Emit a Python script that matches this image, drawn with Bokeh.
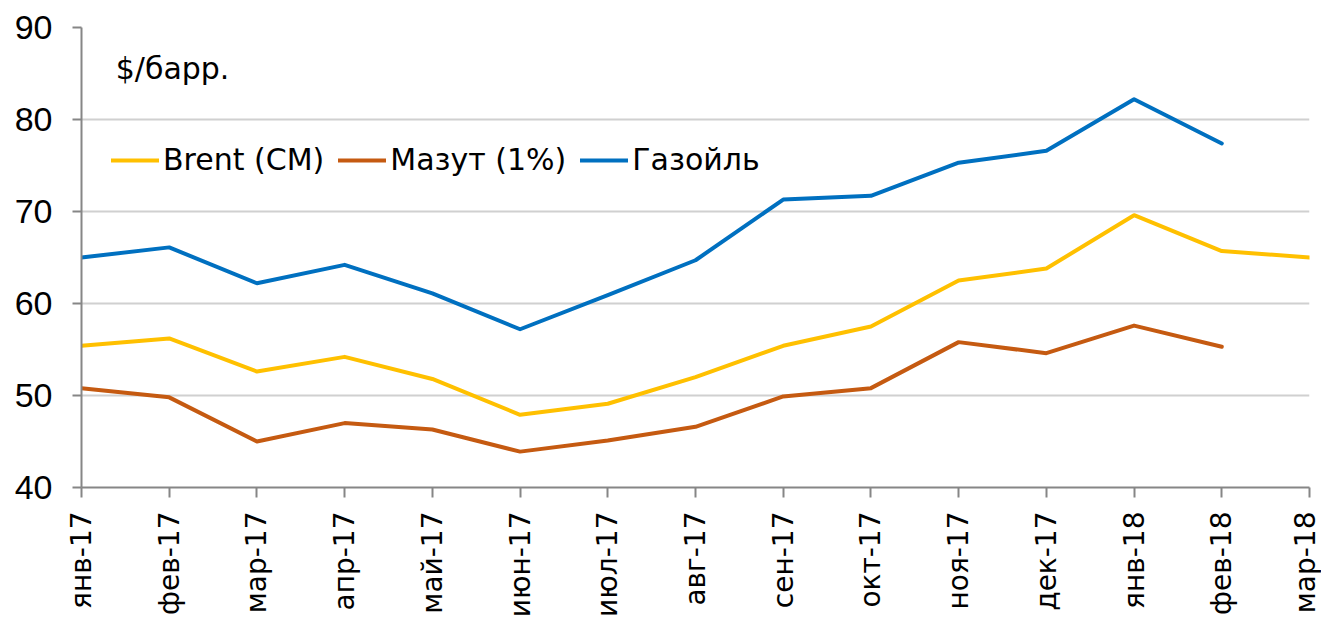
from bokeh.plotting import figure
from bokeh.models import Range1d, FixedTicker, Legend, LegendItem, Label, ColumnDataSource
from bokeh.embed import file_html
from bokeh.resources import INLINE

months = ["янв-17", "фев-17", "мар-17", "апр-17", "май-17", "июн-17", "июл-17",
          "авг-17", "сен-17", "окт-17", "ноя-17", "дек-17", "янв-18", "фев-18", "мар-18"]
brent = [55.4, 56.2, 52.6, 54.2, 51.8, 47.9, 49.1, 52.0, 55.4, 57.5, 62.5, 63.8, 69.6, 65.7, 65.0]
mazut = [50.8, 49.8, 45.0, 47.0, 46.3, 43.9, 45.1, 46.6, 49.9, 50.8, 55.8, 54.6, 57.6, 55.3]
gasoil = [65.0, 66.1, 62.2, 64.2, 61.1, 57.2, 60.9, 64.7, 71.3, 71.7, 75.3, 76.6, 82.2, 77.4]
y_ticks = [40, 50, 60, 70, 80, 90]
unit_label = "$/барр."
series_names = ["Brent (CM)", "Мазут (1%)", "Газойль"]
colors = ["#FFC000", "#C55A11", "#0070C0"]

p = figure(width=1321, height=620, output_backend="svg", toolbar_location=None,
           x_range=Range1d(0, len(months) - 1), y_range=Range1d(40, 90),
           min_border_left=81, min_border_top=27, min_border_right=12, min_border_bottom=133)
p.outline_line_color = None
p.background_fill_color = "white"
p.border_fill_color = "white"

renderers = []
for vals, c in zip([brent, mazut, gasoil], colors):
    src = ColumnDataSource(dict(x=list(range(len(vals))), y=vals))
    r = p.line("x", "y", source=src, line_color=c, line_width=4, line_join="round", line_cap="round")
    renderers.append(r)

p.xgrid.grid_line_color = None
p.ygrid.grid_line_color = "#D0D0D0"
p.ygrid.grid_line_width = 2
p.ygrid.ticker = FixedTicker(ticks=y_ticks)

p.yaxis.ticker = FixedTicker(ticks=y_ticks)
p.yaxis.major_label_text_font = "Liberation Sans"
p.yaxis.major_label_text_font_size = "34px"
p.yaxis.major_label_text_color = "black"
p.yaxis.axis_line_color = "#868686"
p.yaxis.axis_line_width = 2
p.yaxis.major_tick_line_color = "#868686"
p.yaxis.major_tick_line_width = 2
p.yaxis.major_tick_out = 9
p.yaxis.major_tick_in = 0
p.yaxis.minor_tick_line_color = None
p.yaxis.major_label_standoff = 20

p.xaxis.ticker = FixedTicker(ticks=list(range(len(months))))
p.xaxis.major_label_overrides = {i: m for i, m in enumerate(months)}
p.xaxis.major_label_orientation = 3.14159265 / 2
p.xaxis.major_label_text_font = "DejaVu Sans"
p.xaxis.major_label_text_font_size = "28px"
p.xaxis.major_label_text_color = "black"
p.xaxis.axis_line_color = "#868686"
p.xaxis.axis_line_width = 2
p.xaxis.major_tick_line_color = "#868686"
p.xaxis.major_tick_line_width = 2
p.xaxis.major_tick_out = 10
p.xaxis.major_tick_in = 0
p.xaxis.minor_tick_line_color = None
p.xaxis.major_label_standoff = 14

items = [LegendItem(label=n, renderers=[r]) for n, r in zip(series_names, renderers)]
legend = Legend(items=items, orientation="horizontal", location=(30, 310),
                label_text_font="DejaVu Sans", label_text_font_size="30px",
                label_text_color="black",
                glyph_width=48, glyph_height=34, label_height=34, label_standoff=4,
                spacing=14, padding=0, margin=0,
                border_line_color=None, background_fill_alpha=0)
p.add_layout(legend, "center")

p.add_layout(Label(x=0.39, y=85.5, text=unit_label, text_font="DejaVu Sans",
                   text_font_size="30px", text_color="black", text_baseline="alphabetic"))

open("out.html", "w").write(file_html(p, INLINE))
